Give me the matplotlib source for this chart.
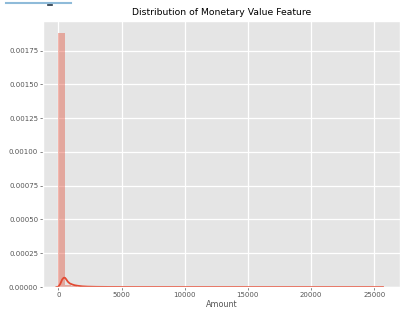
import matplotlib
matplotlib.use('Agg')
import matplotlib.pyplot as plt
from matplotlib.lines import Line2D

# histogram (density) of the monetary value, bins of 500
bin_left = [0, 500, 1000, 1500, 2000, 24500]
bin_width = 500
hist_density = [0.00188, 0.000012, 0.000004, 0.000002, 0.000001, 0.0000005]

# kde curve
kde_x = [-150, 0, 150, 300, 420, 520, 620, 750, 900, 1100, 1300, 1550, 1900,
         2300, 3000, 4000, 6000, 10000, 15000, 20000, 25690]
kde_y = [0.0, 0.000002, 0.000022, 0.000055, 0.000068, 0.000069, 0.000058,
         0.000040, 0.000027, 0.000019, 0.000013, 0.000009, 0.000005,
         0.000003, 0.0000015, 0.0000007, 0.0000003, 0.0000001, 0.00000005,
         0.00000003, 0.0]

plt.style.use('ggplot')
fig = plt.figure(figsize=(4.16, 3.13), dpi=100)
ax = fig.add_axes([0.1034, 0.083, 0.858, 0.85])

ax.bar(bin_left, hist_density, width=bin_width, align='edge',
       color='#E24A33', alpha=0.4, linewidth=0)
ax.plot(kde_x, kde_y, color='#E24A33', linewidth=1.3)

ax.set_xlim(-1210, 27030)
ax.set_ylim(0, 0.00197)
ax.set_xticks([0, 5000, 10000, 15000, 20000, 25000])
ax.set_yticks([0, 0.00025, 0.0005, 0.00075, 0.001, 0.00125, 0.0015, 0.00175])
ax.set_yticklabels(['0.00000', '0.00025', '0.00050', '0.00075', '0.00100',
                    '0.00125', '0.00150', '0.00175'])
ax.tick_params(labelsize=5.0, length=2, width=0.5, pad=1.5, colors='#555555')
ax.grid(color='white', linewidth=0.9)

ax.set_title('Distribution of Monetary Value Feature', fontsize=6.7, pad=4)
ax.set_xlabel('Amount', fontsize=5.8, labelpad=1.5, color='#555555')

# leftover blue bar at the top of the screenshot
fig.add_artist(Line2D([6 / 416, 71 / 416], [1 - 3 / 313, 1 - 3 / 313],
                      color='#8fbbd9', linewidth=1.5))
fig.add_artist(Line2D([48 / 416, 52 / 416], [1 - 4.5 / 313, 1 - 4.5 / 313],
                      color='#223344', linewidth=1.2))

fig.savefig('out.png', dpi=100)
